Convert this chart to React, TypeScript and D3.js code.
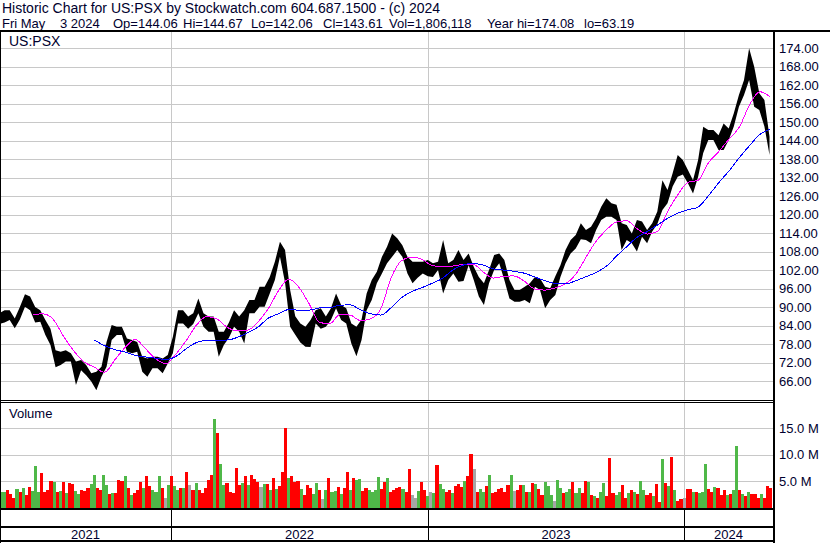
import React from 'react';
import * as d3 from 'd3';

// ---------- DATA ----------
const HEADER_LINE_1 = 'Historic Chart for US:PSX by Stockwatch.com 604.687.1500 - (c) 2024';
const HEADER_LINE_2 = ['Fri May', '3 2024', 'Op=144.06', 'Hi=144.67', 'Lo=142.06', 'Cl=143.61', 'Vol=1,806,118', 'Year hi=174.08', 'lo=63.19'];
const SYMBOL = 'US:PSX';
const YEARS = ['2021', '2022', '2023', '2024'];
const YEAR_START_DAY = [170, 421, 671]; // trading-day index where 2022, 2023, 2024 start
const TOTAL_DAYS = 757;
const PRICE_TICKS = d3.range(66, 175, 6);
const VOLUME_TICKS = [5, 10, 15];

// weekly high / low of the price band
const priceHigh = [
  88, 89, 89, 86.3, 90, 94.2, 93.4, 90, 89, 85.8,
  83, 76, 75.5, 76, 75, 72.3, 72.8, 71.2, 68.5, 69,
  70.6, 78.7, 84.2, 83.6, 83.6, 79.8, 79.3, 78.7, 73.9, 73.3,
  73.9, 73.9, 73.3, 74.4, 80.4, 89, 89, 86.9, 88, 92.8,
  88, 86.9, 86.9, 82, 82, 85, 89, 86.9, 89, 92.3,
  92.3, 96.6, 96.6, 99.8, 104.7, 111.2, 108.5, 95.5, 87, 84.7,
  83.6, 85.8, 89, 89.6, 86.9, 89.6, 94.4, 90.7, 89.6, 84.7,
  83.6, 86, 94.4, 98.8, 101.5, 106.3, 109.6, 113.9, 112.3, 110.1,
  106.3, 104.7, 104.7, 104.7, 105.3, 104.2, 104.7, 111.8, 104.2, 105.3,
  108.5, 105.3, 107.4, 103.1, 99.8, 97.7, 102, 106.9, 107.4, 105.3,
  98.8, 95.5, 95.5, 96.6, 97.7, 99.8, 99.3, 96.6, 96.1, 100,
  103.6, 108.5, 111.8, 113.4, 117.2, 115, 116.1, 118.8, 122.6, 125.3,
  123.7, 123.2, 117.2, 116.6, 113.9, 118.3, 117.8, 115, 117.2, 121,
  131.2, 128, 133.4, 139.4, 137.7, 134.5, 131.2, 137.7, 148.5, 147.5,
  147.5, 145.8, 149.6, 148, 152.9, 158.8, 163.7, 174, 168, 159.4,
  157.2, 145.3,
];
const priceLow = [
  84.5, 85, 85.8, 83.1, 86, 90.1, 89, 85, 85.2, 80.9,
  77.7, 70.5, 71.2, 72.3, 72.3, 64.7, 69.5, 67.9, 65.8, 63,
  67.4, 70.6, 79.3, 80.9, 80.9, 75.5, 75, 75.5, 69, 67.4,
  70.1, 70.1, 68.5, 71.7, 75, 84.7, 84.7, 83, 84.5, 88,
  83.6, 82, 82, 73.9, 77.7, 80, 83.6, 82, 78.2, 88,
  88, 90.1, 90.1, 94.4, 98.8, 106.3, 98, 83.6, 81, 78.5,
  77.1, 77, 84.7, 83, 83.6, 85.8, 89.6, 85.8, 84.7, 78.2,
  74, 79.3, 89, 92.3, 97.7, 100.9, 104.2, 106.3, 108.5, 106.3,
  100.9, 97.7, 99.5, 100.9, 100, 99.8, 102, 94.4, 98.8, 100.9,
  98.2, 98.5, 103.6, 98.8, 93.4, 90.7, 97.7, 102, 104.2, 98.8,
  92.8, 91.7, 91.7, 92.3, 91.2, 96.6, 95.5, 89.6, 92.3, 93.9,
  99.8, 104.2, 107.4, 109, 112, 111.8, 110.7, 115, 118.3, 119.3,
  119.3, 118.3, 108.5, 111.8, 110.7, 108, 112.8, 110.7, 114.5, 117,
  121.5, 123.7, 129.1, 132.3, 133, 130.2, 126.9, 132.3, 140, 144.2,
  144.2, 141, 141, 144.2, 148.6, 155, 158.8, 163.7, 155, 154,
  148.6, 139.4,
];

// moving averages, one value every 10 trading days
const maShort: (number | null)[] = [
  null, null, null, 87.6, 87.8, 86, 80.5, 75.8, 72.2, 70.5,
  68.8, 72.8, 76.8, 79.5, 76.5, 73.2, 71.6, 74.8, 79.2, 84.2,
  86.9, 86.1, 83.4, 82.3, 82.5, 85.2, 89.5, 95.3, 99.1, 96.4,
  91, 85, 84.6, 87.6, 87.4, 85.6, 86.2, 89.5, 99.5, 105,
  106.2, 105.5, 103.5, 103.1, 103.3, 103.8, 103.9, 101.3, 99.4, 100,
  100.1, 98.4, 95.9, 95.5, 96.2, 97.5, 100.5, 106, 111.3, 115,
  117.6, 118, 115.5, 113.7, 114.5, 121, 126.5, 130.5, 131.2, 136.9,
  140.5, 144.5, 148.4, 155.6, 159.9, 158.3,
];
const maLong: (number | null)[] = [
  null, null, null, null, null, null, null, null, null, 79.3,
  77.5, 76.2, 75.4, 74.3, 73.8, 73.4, 73, 74, 76.5, 78.5,
  79.2, 79.3, 79.3, 80.2, 81.7, 83.5, 86.4, 87.8, 89.2, 89,
  89, 89.7, 89.8, 90.6, 90.7, 89.1, 87.8, 87.4, 89.8, 93,
  95, 96.3, 97.7, 99.3, 102, 103.6, 104.2, 103.6, 102.4, 102,
  101.6, 101, 99.8, 98.6, 97.7, 97.5, 98.5, 99.8, 101.2, 103.2,
  106.5, 109.6, 112.6, 114.5, 116.6, 118.8, 120.5, 121.6, 122.5, 126.2,
  130.4, 134.2, 138.5, 142.4, 146, 147.7,
];

// volume (millions), one bar per ~3 trading days
const volume = [
  1.9, 2.9, 2.9, 3.4, 2.5, 1.8, 3.5, 3.0, 3.7, 2.4,
  3.9, 3.2, 7.9, 2.9, 6.5, 3.0, 3.4, 5.1, 4.8, 3.0,
  3.2, 4.8, 2.7, 4.6, 4.4, 3.2, 2.5, 3.4, 3.2, 3.6,
  4.5, 6.2, 3.7, 3.4, 6.2, 4.3, 2.5, 2.8, 2.8, 5.3,
  5.0, 5.9, 3.6, 2.4, 2.8, 3.4, 4.8, 3.7, 5.9, 4.0,
  3.4, 3.0, 6.0, 3.6, 1.8, 4.2, 5.9, 4.0, 3.4, 3.7,
  3.7, 6.7, 4.2, 3.4, 4.6, 3.4, 2.7, 3.6, 5.3, 6.2,
  16.7, 14.2, 8.3, 4.3, 4.6, 3.0, 2.8, 7.5, 4.3, 4.6,
  5.9, 4.3, 6.2, 5.4, 4.8, 3.8, 4.4, 4.4,
  3.4, 5.5, 3.5, 4.1, 6.7, 15.0, 5.6, 6.0, 4.8, 5.1,
  3.5, 2.4, 4.2, 3.6, 2.6, 4.6, 3.4, 1.7, 3.4, 5.5,
  3.0, 3.2, 3.9, 2.5, 3.7, 6.7, 3.4, 5.6, 5.3, 5.4,
  3.2, 3.7, 3.4, 2.9, 3.4, 5.8, 3.5, 4.8, 5.5, 3.0,
  3.4, 3.6, 3.9, 3.5, 2.9, 7.2, 2.4, 1.8, 3.2, 4.8,
  3.4, 2.1, 2.9, 2.8, 8.0, 4.4, 3.5, 2.9, 3.4, 2.7,
  4.0, 4.5, 3.8, 5.1, 6.0, 10.2, 7.2, 3.0, 3.5, 3.0,
  4.1, 6.2, 2.7, 3.0, 3.5, 3.7, 2.9, 4.2, 6.2, 3.2,
  3.4, 4.3, 4.3,
  3.0, 2.9, 4.6, 4.4, 3.5, 2.4, 4.8, 4.0, 2.4, 1.3,
  5.3, 3.7, 2.7, 2.9, 3.5, 4.8, 2.7, 3.7, 2.8, 5.1,
  4.8, 2.4, 2.1, 1.8, 2.9, 4.6, 2.1, 9.3, 2.8, 2.4,
  3.0, 4.3, 1.8, 2.7, 3.4, 3.0, 2.5, 5.1, 3.4, 2.4,
  2.7, 2.1, 4.4, 1.1, 9.1, 4.6, 4.0, 9.6, 3.4, 1.3,
  1.7, 1.8, 3.5, 3.5, 3.0, 2.9, 2.7, 3.0, 8.3, 3.5,
  3.0, 3.9, 3.6, 2.4, 3.4, 2.4, 2.5, 3.4, 11.7, 3.4,
  2.5, 2.1, 3.0, 2.5, 2.5, 1.8, 2.6, 1.8, 4.1, 3.7,
];
// r = down day, g = up day, n = unchanged
const volumeDir = (
  'nggrrrgrgr' + 'rgggrrrrgr' + 'grgrrggrrr' + 'ggrrggrgrr' + 'rgrgrrrgrr' +
  'gggrngrggr' + 'grnrgrrrrr' + 'grggrrrrrg' + 'rgrrrngr' +
  'grgrrrgrrr' + 'grrrggrngr' + 'ggrgrrgrgg' + 'rrggggrrgr' + 'rrrgrrnngr' +
  'rgngrggrrg' + 'rrrgrrnrgg' + 'rgrrrrrrgn' + 'rrg' +
  'rgrgrrgggn' + 'ggrggrggrr' + 'grgrggrrrg' + 'grrgrgrggr' + 'rgrrgrgrgr' +
  'rnrrgrgggr' + 'rgrrrgrggr' + 'grgrrrgrrr'
).split('');

// ---------- STYLE ----------
const FONT = '"Liberation Sans", Arial, sans-serif';
const TEXT = '#00002e';
const GRID = '#c8c8c8';
const VOL_COLORS: Record<string, string> = { r: '#ff0000', g: '#4fb848', n: '#a6a6a6' };

export default function App() {
  const W = 830;
  const H = 543;
  const axisX = 773; // right axis line (2px)
  const priceTop = 32, priceBottom = 400;
  const volTop = 403, volBottom = 508;

  const x = d3.scaleLinear().domain([YEAR_START_DAY[0], YEAR_START_DAY[2]]).range([171, 684]);
  const yP = d3.scaleLinear().domain([66, 174]).range([381, 48.3]);
  const yV = d3.scaleLinear().domain([0, 15]).range([507.5, 428.3]);

  const nS = priceHigh.length;
  const sampleDay = (j: number) => (j + 0.5) * TOTAL_DAYS / nS;
  const band = d3.area<number>()
    .x((_, j) => x(sampleDay(j)))
    .y0((_, j) => yP(priceLow[j]))
    .y1((d) => yP(d));

  const maLine = d3.line<number | null>()
    .defined((d) => d != null)
    .x((_, k) => x(10 * k + 5))
    .y((d) => yP(d as number))
    .curve(d3.curveMonotoneX);

  const nV = volume.length;
  const volDay = (i: number) => i * TOTAL_DAYS / nV;

  const yearEdges = [0, ...YEAR_START_DAY.map((d) => Math.round(x(d))), axisX];
  const gridXs = YEAR_START_DAY.map((d) => Math.round(x(d)) + 0.5);

  const h2x = [2, 60, 113, 183, 251, 323, 389, 487, 584];

  return (
    <div style={{ position: 'absolute', left: 0, top: 0, width: W, height: H, background: '#fff' }}>
      <svg width={W} height={H} style={{ display: 'block' }} fontFamily={FONT}>
        <defs>
          <clipPath id="pclip"><rect x={1} y={priceTop} width={axisX - 1} height={priceBottom - priceTop} /></clipPath>
          <clipPath id="vclip"><rect x={1} y={volTop} width={axisX - 1} height={volBottom - volTop} /></clipPath>
        </defs>
        <rect x={0} y={0} width={W} height={H} fill="#fff" />

        {/* header */}
        <text x={2} y={13} fontSize={14} fill={TEXT}>{HEADER_LINE_1}</text>
        {HEADER_LINE_2.map((t, i) => (
          <text key={t} x={h2x[i]} y={28} fontSize={13} fill={TEXT}>{t}</text>
        ))}

        {/* price grid */}
        {PRICE_TICKS.map((p) => (
          <line key={p} x1={1} x2={axisX} y1={Math.round(yP(p)) + 0.5} y2={Math.round(yP(p)) + 0.5} stroke={GRID} strokeWidth={1} />
        ))}
        {gridXs.map((gx) => (
          <line key={'pv' + gx} x1={gx} x2={gx} y1={priceTop} y2={priceBottom} stroke={GRID} strokeWidth={1} />
        ))}
        {/* volume grid */}
        {VOLUME_TICKS.map((v) => (
          <line key={'vg' + v} x1={1} x2={axisX} y1={Math.round(yV(v)) + 0.5} y2={Math.round(yV(v)) + 0.5} stroke={GRID} strokeWidth={1} />
        ))}
        {gridXs.map((gx) => (
          <line key={'vv' + gx} x1={gx} x2={gx} y1={volTop} y2={volBottom} stroke={GRID} strokeWidth={1} />
        ))}

        {/* price band + moving averages */}
        <g clipPath="url(#pclip)">
          <path d={band(priceHigh) || ''} fill="#000" />
          <path d={maLine(maShort) || ''} fill="none" stroke="#ff00ff" strokeWidth={1} shapeRendering="crispEdges" />
          <path d={maLine(maLong) || ''} fill="none" stroke="#0000ff" strokeWidth={1} shapeRendering="crispEdges" />
        </g>
        <text x={9} y={46} fontSize={14} fill={TEXT}>{SYMBOL}</text>

        {/* volume bars */}
        <g clipPath="url(#vclip)" shapeRendering="crispEdges">
          {volume.map((v, i) => {
            const x0 = x(volDay(i));
            const x1 = x(volDay(i + 1));
            return (
              <rect key={i} x={x0} width={Math.max(1, x1 - x0)} y={yV(v)} height={yV(0) - yV(v)} fill={VOL_COLORS[volumeDir[i]] || VOL_COLORS.g} />
            );
          })}
        </g>
        <text x={9} y={418} fontSize={13} fill={TEXT}>Volume</text>

        {/* frame lines */}
        <g shapeRendering="crispEdges">
          <rect x={0} y={30} width={W} height={2} fill="#000" />
          <rect x={0} y={30} width={1} height={H - 30} fill="#000" />
          <rect x={axisX} y={30} width={2} height={H - 30} fill="#000" />
          <rect x={0} y={400} width={axisX} height={1} fill="#000" />
          <rect x={0} y={402} width={axisX} height={1} fill="#000" />
          <rect x={0} y={508} width={axisX} height={2} fill="#000" />
          <rect x={0} y={526} width={axisX} height={2} fill="#000" />
          <rect x={0} y={540} width={axisX} height={2} fill="#000" />
          {YEAR_START_DAY.map((d) => (
            <rect key={'yb' + d} x={Math.round(x(d))} y={510} width={1} height={30} fill="#000" />
          ))}
        </g>

        {/* year labels */}
        {YEARS.map((yr, i) => (
          <text key={yr} x={(yearEdges[i] + yearEdges[i + 1]) / 2} y={539} fontSize={13} fill={TEXT} textAnchor="middle">{yr}</text>
        ))}

        {/* right axes */}
        {PRICE_TICKS.map((p) => (
          <text key={'pl' + p} x={779} y={yP(p) + 4.6} fontSize={13} fill={TEXT}>{p.toFixed(2)}</text>
        ))}
        {VOLUME_TICKS.map((v) => (
          <text key={'vl' + v} x={779} y={yV(v) + 4.6} fontSize={13} fill={TEXT}>{v.toFixed(1) + ' M'}</text>
        ))}
      </svg>
    </div>
  );
}
